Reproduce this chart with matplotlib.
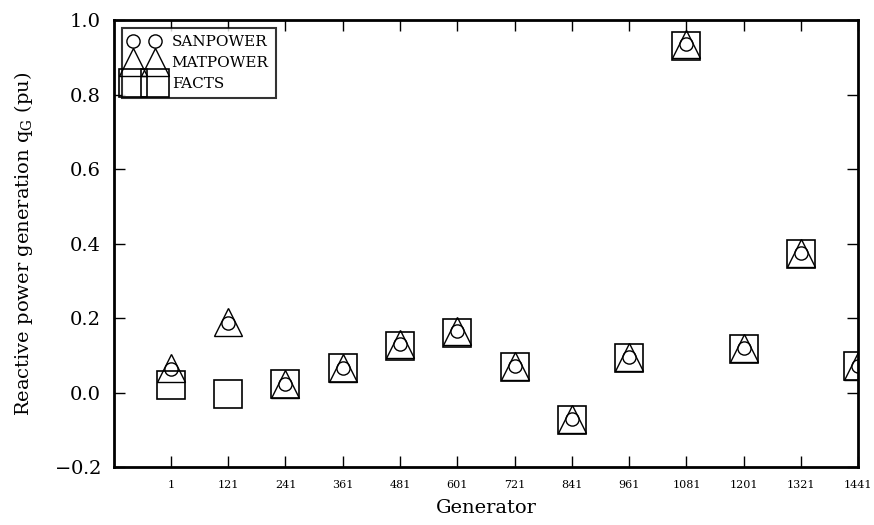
import matplotlib
matplotlib.use("Agg")
import matplotlib.pyplot as plt

plt.rcParams['font.family'] = ['DejaVu Serif']
plt.rcParams['mathtext.fontset'] = 'dejavuserif'

generators = [1, 121, 241, 361, 481, 601, 721, 841, 961, 1081, 1201, 1321, 1441]
sanpower = [0.064, 0.188, 0.024, 0.067, 0.13, 0.165, 0.072, -0.07, 0.096, 0.935, 0.12, 0.376, 0.072]
matpower = [0.066, 0.19, 0.024, 0.067, 0.13, 0.165, 0.072, -0.07, 0.096, 0.935, 0.12, 0.376, 0.072]
facts = [0.02, -0.004, 0.024, 0.065, 0.125, 0.16, 0.07, -0.073, 0.094, 0.93, 0.118, 0.373, 0.072]

fig = plt.figure(figsize=(8.74, 5.25), dpi=100)
ax = fig.add_axes([0.130, 0.110, 0.852, 0.852])

ax.plot(generators, sanpower, 'o', ms=9.5, mfc='none', mec='black', mew=1.0, label='SANPOWER')
ax.plot(generators, matpower, '^', ms=19.5, mfc='none', mec='black', mew=1.0, label='MATPOWER')
ax.plot(generators, facts, 's', ms=19.5, mfc='none', mec='black', mew=1.2, label='FACTS')

ax.set_xlim(-119, 1441)
ax.set_ylim(-0.2, 1.0)
ax.set_xticks(generators)
ax.set_xticklabels([str(g) for g in generators], fontsize=8)
ax.set_yticks([-0.2, 0.0, 0.2, 0.4, 0.6, 0.8, 1.0])
ax.set_yticklabels(['$-$0.2', '0.0', '0.2', '0.4', '0.6', '0.8', '1.0'], fontsize=14)
ax.tick_params(direction='in', length=8, width=1, top=True, right=True, pad=9)

for s in ax.spines.values():
    s.set_linewidth(2)

ax.set_xlabel('Generator', fontsize=14, labelpad=7)
ax.set_ylabel(r'Reactive power generation $\mathregular{q}_{\mathregular{G}}$ (pu)', fontsize=14, labelpad=14)

leg = ax.legend(loc='upper left', numpoints=2, fontsize=11, frameon=True, fancybox=False,
                borderaxespad=0.55, handlelength=2.0, handletextpad=0.8, labelspacing=0.45,
                borderpad=0.45)
leg.get_frame().set_edgecolor('black')
leg.get_frame().set_linewidth(1.5)

fig.savefig('out.png', dpi=100)
